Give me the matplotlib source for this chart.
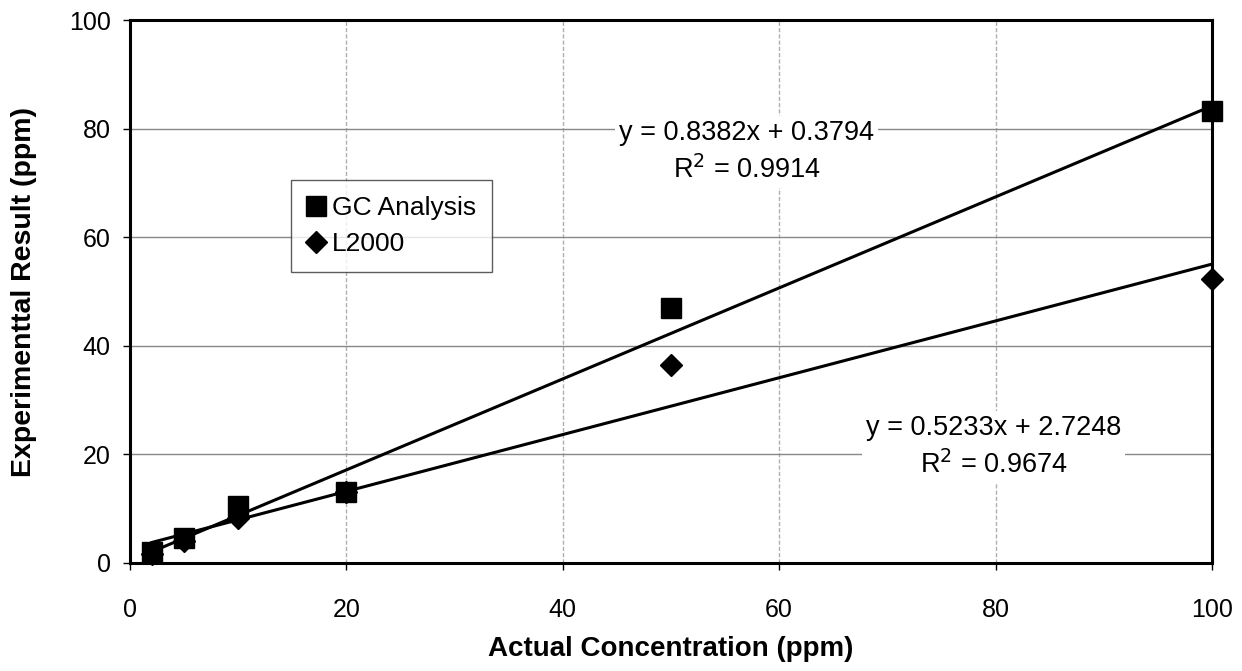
import matplotlib.pyplot as plt
import numpy as np

plt.rcParams['font.family'] = ['Liberation Sans', 'DejaVu Sans']

actual = [2, 5, 10, 20, 50, 100]
gc_result = [2.0, 4.6, 10.5, 13.0, 47.0, 83.2]
l2000_result = [1.6, 4.0, 8.2, 13.0, 36.4, 52.4]

gc_fit = (0.8382, 0.3794)
l2000_fit = (0.5233, 2.7248)

fig = plt.figure(figsize=(12.42, 6.71), dpi=100)
ax = fig.add_axes([0.1047, 0.161, 0.8711, 0.809])

ax.yaxis.grid(True, color='#888888', linewidth=1.0)
ax.xaxis.grid(True, color='#b0b0b0', linewidth=1.0, linestyle=(0, (3, 1.5)))
ax.set_axisbelow(True)

xs = np.array([actual[0], actual[-1]])
ax.plot(xs, gc_fit[0] * xs + gc_fit[1], color='black', lw=2.2, zorder=3)
ax.plot(xs, l2000_fit[0] * xs + l2000_fit[1], color='black', lw=2.2, zorder=3)

ax.plot(actual, l2000_result, 'D', color='black', ms=11, zorder=4, label='L2000', clip_on=False)
ax.plot(actual, gc_result, 's', color='black', ms=15, zorder=5, label='GC Analysis', clip_on=False)

ax.set_xlim(0, 100)
ax.set_ylim(0, 100)
ax.set_xticks(range(0, 101, 20))
ax.set_yticks(range(0, 101, 20))
ax.tick_params(labelsize=18, length=5, width=1)
ax.tick_params(axis='x', pad=20)
ax.tick_params(axis='y', pad=9)
for s in ax.spines.values():
    s.set_linewidth(2.2)

ax.set_xlabel('Actual Concentration (ppm)', fontsize=20, fontweight='bold')
ax.set_ylabel('Experimenttal Result (ppm)', fontsize=20.5, fontweight='bold')
ax.xaxis.set_label_coords(0.5, -0.134)
ax.yaxis.set_label_coords(-0.086, 0.5)

box = dict(facecolor='white', edgecolor='none', pad=3)
ax.text(57, 75.7, 'y = 0.8382x + 0.3794\nR$^2$ = 0.9914', ha='center', va='center',
        fontsize=19.5, linespacing=1.4, bbox=box, zorder=2)
ax.text(79.8, 21.4, 'y = 0.5233x + 2.7248\nR$^2$ = 0.9674', ha='center', va='center',
        fontsize=19.5, linespacing=1.4, bbox=box, zorder=2)

h, l = ax.get_legend_handles_labels()
leg = ax.legend(h[::-1], l[::-1], loc='upper left', bbox_to_anchor=(0.149, 0.705),
                borderaxespad=0, fontsize=19, frameon=True, fancybox=False,
                edgecolor='#333333', handlelength=0.7, handletextpad=0.25,
                borderpad=0.6, labelspacing=0.45, markerscale=1.0)
leg.get_frame().set_linewidth(1.0)

fig.savefig('out.png', dpi=100)
